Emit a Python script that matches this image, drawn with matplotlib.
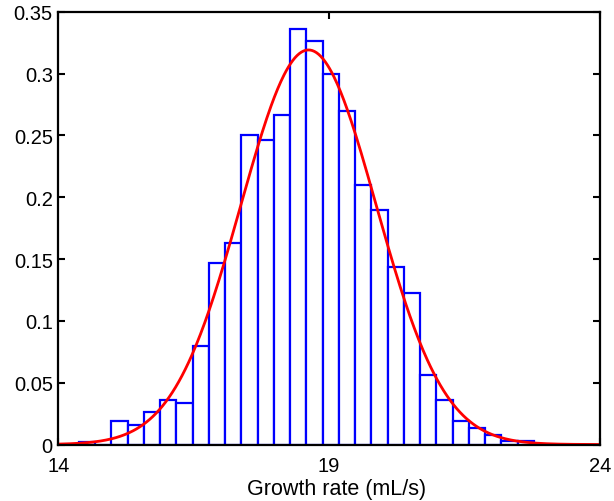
import numpy as np
import matplotlib
matplotlib.use("Agg")
import matplotlib.pyplot as plt

plt.rcParams['font.family'] = ['Liberation Sans', 'DejaVu Sans']

# Histogram of growth rates (normalised as a probability density)
first_edge = 14.38
bin_width = 0.3
density = [0.002, 0.0, 0.0194, 0.0161, 0.0264, 0.0362, 0.0332, 0.0795,
           0.1467, 0.1630, 0.2502, 0.2462, 0.2665, 0.3362, 0.3267, 0.2999,
           0.2695, 0.2096, 0.1898, 0.1432, 0.1229, 0.0565, 0.0362, 0.0194,
           0.0131, 0.0080, 0.0030, 0.0030]

# Fitted normal distribution
mu = 18.62
sigma = 1.25

x_ticks = [14, 19, 24]
y_ticks = [0, 0.05, 0.1, 0.15, 0.2, 0.25, 0.3, 0.35]
y_tick_labels = ['0', '0.05', '0.1', '0.15', '0.2', '0.25', '0.3', '0.35']

fig = plt.figure(figsize=(6.14, 5.02), dpi=100)
ax = fig.add_axes([0.095, 0.1125, 0.882, 0.862])

lefts = first_edge + bin_width * np.arange(len(density))
ax.bar(lefts, density, width=bin_width, align='edge',
       facecolor='white', edgecolor='#0000ff', linewidth=1.6, zorder=2)

xs = np.linspace(14, 24, 500)
pdf = np.exp(-0.5 * ((xs - mu) / sigma) ** 2) / (sigma * np.sqrt(2 * np.pi))
ax.plot(xs, pdf, color='#ff0000', linewidth=2.0, zorder=3)

ax.set_xlim(14, 24)
ax.set_ylim(0, 0.35)
ax.set_xticks(x_ticks)
ax.set_xticklabels([str(t) for t in x_ticks])
ax.set_yticks(y_ticks)
ax.set_yticklabels(y_tick_labels)
ax.tick_params(direction='in', length=5, width=1.5, labelsize=14.5,
               top=True, right=True, pad=4)
ax.tick_params(axis='x', pad=8)
for sp in ax.spines.values():
    sp.set_linewidth(1.6)
    sp.set_zorder(4)
ax.set_xlabel('Growth rate (mL/s)', fontsize=15.5)
ax.xaxis.set_label_coords(0.513, -0.078)

fig.savefig('out.png', dpi=100)
